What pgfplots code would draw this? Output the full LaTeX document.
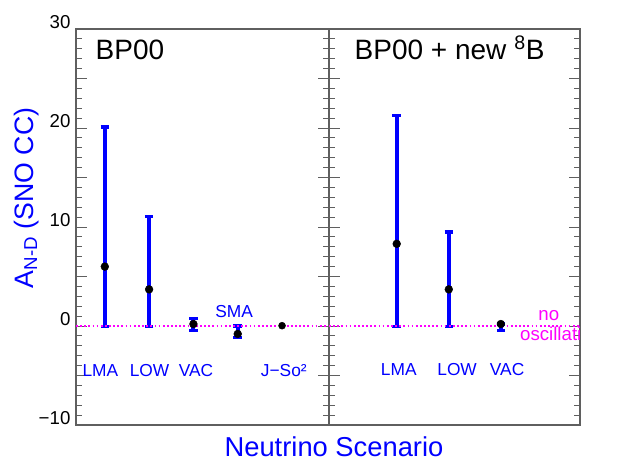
\documentclass[border=0pt]{standalone}
\usepackage{fontspec}
\setmainfont{Liberation Sans}
\usepackage{pgfplots}
\pgfplotsset{compat=1.18}
\usepackage{pgfplotstable}
\definecolor{myblue}{RGB}{0,0,255}
\definecolor{mymag}{RGB}{255,0,255}
\definecolor{axgray}{RGB}{95,95,95}

\pgfplotstableread{
x y ep em
1 6.0 14.1 6.05
2 3.7 7.4 3.75
3 0.2 0.58 0.67
4 -0.8 0.8 0.38
}\leftdata
\pgfplotstableread{
x y
5 0.03
}\leftnoerr
\pgfplotstableread{
x y ep em
1 8.3 13.0 8.35
2 3.7 5.8 3.75
3 0.2 0.0 0.67
}\rightdata

\pgfplotsset{
 panel/.style={scale only axis, height=297pt, ymin=-10, ymax=30,
   ytick={-10,-5,...,30}, minor y tick num=4, xtick=\empty,
   major tick length=8pt, minor tick length=4.5pt,
   axis line style={axgray, line width=0.8pt},
   every tick/.style={axgray, line width=0.7pt},
   anchor=south west, clip=true,
   tick label style={font=\fontsize{14}{14}\selectfont},
   yticklabel style={anchor=south east, inner sep=0pt, xshift=-4pt}},
 ebar/.style={only marks, mark=*, mark size=2.9pt, mark options={black, fill=black},
   error bars/.cd, y dir=both, y explicit,
   error bar style={myblue, line width=2.9pt},
   error mark options={myblue, line width=2.4pt, mark size=3.2pt, rotate=90}}
}

\begin{document}
\begin{tikzpicture}
\useasboundingbox (0,0) rectangle (467.25pt,352.5pt);

\begin{axis}[panel, at={(57pt,33.75pt)}, width=189.75pt,
  xmin=0.35, xmax=6.06,
  yticklabels={−10,,0,,10,,20,,30}]
\addplot[ebar] table[x=x,y=y,y error plus=ep,y error minus=em]{\leftdata};
\addplot[only marks, mark=*, mark size=2.6pt, mark options={black, fill=black}] table[x=x,y=y]{\leftnoerr};
\addplot[mymag, line width=1.3pt, dash pattern=on 1.3pt off 1.8pt] coordinates {(0.35,0) (6.06,0)};
\node[myblue, font=\fontsize{13}{13}\selectfont, anchor=base] at (axis cs:0.9,-5.12) {LMA};
\node[myblue, font=\fontsize{13}{13}\selectfont, anchor=base] at (axis cs:2.01,-5.12) {LOW};
\node[myblue, font=\fontsize{13}{13}\selectfont, anchor=base] at (axis cs:3.06,-5.12) {VAC};
\node[myblue, font=\fontsize{13}{13}\selectfont, anchor=base] at (axis cs:5.04,-5.12) {J−So²};
\node[myblue, font=\fontsize{13}{13}\selectfont, anchor=base] at (axis cs:3.92,0.88) {SMA};
\end{axis}

\begin{axis}[panel, at={(246.75pt,33.75pt)}, width=188.25pt,
  xmin=-0.3, xmax=4.52,
  yticklabels={}]
\addplot[ebar] table[x=x,y=y,y error plus=ep,y error minus=em]{\rightdata};
\addplot[mymag, line width=1.3pt, dash pattern=on 1.3pt off 1.8pt] coordinates {(-0.3,0) (4.52,0)};
\node[myblue, font=\fontsize{13}{13}\selectfont, anchor=base] at (axis cs:1.04,-5.05) {LMA};
\node[myblue, font=\fontsize{13}{13}\selectfont, anchor=base] at (axis cs:2.16,-5.05) {LOW};
\node[myblue, font=\fontsize{13}{13}\selectfont, anchor=base] at (axis cs:3.12,-5.05) {VAC};
\node[mymag, font=\fontsize{14}{14}\selectfont, anchor=base] at (axis cs:3.92,0.6) {no};
\node[mymag, font=\fontsize{14}{14}\selectfont, anchor=base west] at (axis cs:3.28,-1.48) {oscillation};
\end{axis}

\node[anchor=base west, font=\fontsize{21}{21}\selectfont] at (68.25pt,307.5pt) {BP00};
\node[anchor=base west, font=\fontsize{21}{21}\selectfont] at (262.5pt,307.5pt) {BP00 + new \textsuperscript{8}B};
\node[anchor=base, rotate=90, myblue, font=\fontsize{20}{20}\selectfont] at (24.75pt,204pt) {A\textsubscript{N-D} (SNO CC)};
\node[anchor=base, myblue, font=\fontsize{20.5}{20.5}\selectfont] at (250.5pt,9.75pt) {Neutrino Scenario};
\end{tikzpicture}
\end{document}
